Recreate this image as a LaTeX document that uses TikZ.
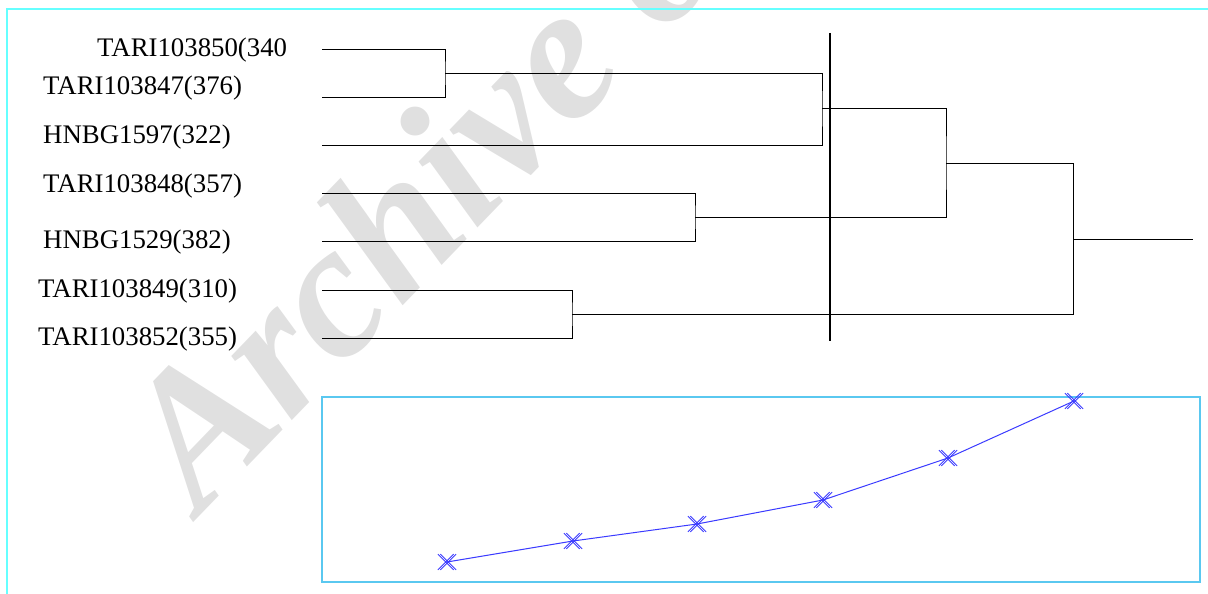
\documentclass[tikz,border=0pt]{standalone}
\usepackage{fontspec}
\setmainfont{Liberation Serif}
\usetikzlibrary{shapes.misc}
\definecolor{frameCyan}{HTML}{66FFFF}
\definecolor{boxBlue}{HTML}{5AC8F0}
\definecolor{plotBlue}{HTML}{3A3AFF}
\definecolor{wmGray}{HTML}{E0E0E0}
\begin{document}
\begin{tikzpicture}[x=1pt,y=-1pt,
  dend/.style={line width=0.9pt, black},
  cutline/.style={line width=2.2pt, black},
  lab/.style={anchor=base west, inner sep=0pt, font=\fontsize{26.8}{30}\selectfont},
  frameline/.style={line width=2pt, frameCyan},
  plotbox/.style={line width=1.4pt, boxBlue},
  plotline/.style={line width=1pt, plotBlue},
  mk/.style={draw=plotBlue, cross out, line width=0.8pt, minimum size=15pt, inner sep=0pt},
  wm/.style={text=wmGray, inner sep=0pt, font=\fontsize{192}{192}\selectfont\bfseries\itshape}]
\useasboundingbox (0,0) rectangle (1208,594);
% watermark
\begin{scope}
\clip (0,0) rectangle (1208,594);
\node[wm, anchor=base west, rotate=46] (wmark) at (200,516) {Archive of SID};
\end{scope}
% outer frame
\coordinate (fTL) at (7,9);
\coordinate (fTR) at (1208,9);
\coordinate (fBL) at (7,594);
\draw[frameline] (fTR) -- (fTL) -- (fBL);
% labels
\node[lab] (l1) at (97,57) {TARI103850(340};
\node[lab] (l2) at (43,95) {TARI103847(376)};
\node[lab] (l3) at (43,143) {HNBG1597(322)};
\node[lab] (l4) at (43,192) {TARI103848(357)};
\node[lab] (l5) at (43,248) {HNBG1529(382)};
\node[lab] (l6) at (38,297) {TARI103849(310)};
\node[lab] (l7) at (38,345) {TARI103852(355)};
% leaves
\coordinate (a1) at (322,49);
\coordinate (a2) at (322,97);
\coordinate (a3) at (322,145);
\coordinate (a4) at (322,193);
\coordinate (a5) at (322,241);
\coordinate (a6) at (322,290);
\coordinate (a7) at (322,338);
% junctions
\coordinate (j12) at (445,73);
\coordinate (j123) at (822,108);
\coordinate (j45) at (695,217);
\coordinate (j12345) at (946,163);
\coordinate (j67) at (572,314);
\coordinate (root) at (1073,239);
\coordinate (rootend) at (1193,239);
\draw[dend] (a1) -| (j12) |- (a2);
\draw[dend] (j12) -| (j123) |- (a3);
\draw[dend] (a4) -| (j45) |- (a5);
\draw[dend] (j123) -| (j12345) |- (j45);
\draw[dend] (a6) -| (j67) |- (a7);
\draw[dend] (j12345) -| (root) |- (j67);
\draw[dend] (root) -- (rootend);
% cut line
\coordinate (cutT) at (830,33);
\coordinate (cutB) at (830,341);
\draw[cutline] (cutT) -- (cutB);
% lower plot box
\coordinate (bTL) at (322,397);
\coordinate (bBR) at (1200,582);
\draw[plotbox] (bTL) rectangle (bBR);
% plot points
\coordinate (p1) at (447,562);
\coordinate (p2) at (573,541);
\coordinate (p3) at (697,524);
\coordinate (p4) at (823,500);
\coordinate (p5) at (948,458);
\coordinate (p6) at (1074,401);
\draw[plotline] (p1) -- (p2) -- (p3) -- (p4) -- (p5) -- (p6);
\foreach \p in {p1,p2,p3,p4,p5,p6}{
  \node[mk] at ([xshift=-1.2pt]\p) {};
  \node[mk] at ([xshift=1.2pt]\p) {};
}
\end{tikzpicture}
\end{document}
